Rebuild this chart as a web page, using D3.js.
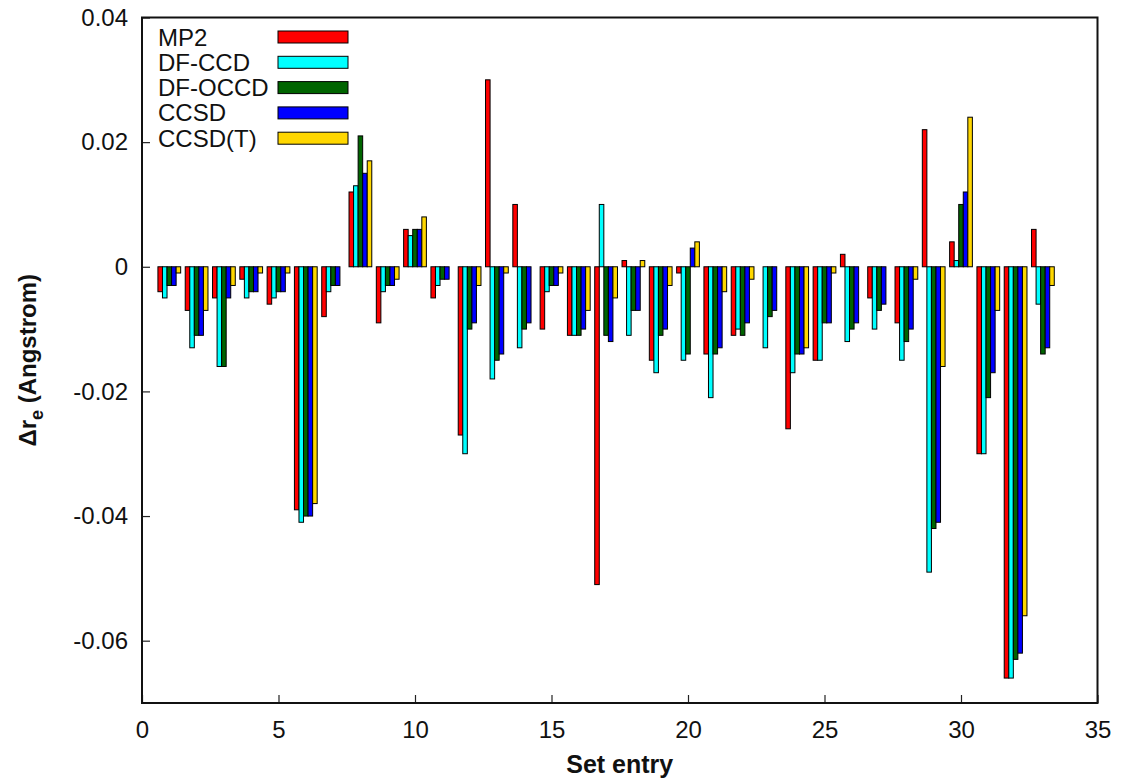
<!DOCTYPE html>
<html>
<head>
<meta charset="utf-8">
<script src="https://cdn.jsdelivr.net/npm/d3@7"></script>
<style>
  body { margin: 0; background: #fff; }
  text { font-family: "Liberation Sans", Arial, sans-serif; }
</style>
</head>
<body>
<div id="chart"></div>
<script>
// Data
const entries = d3.range(1, 34);
const seriesNames = ["MP2", "DF-CCD", "DF-OCCD", "CCSD", "CCSD(T)"];
const mp2 = [-0.004,-0.007,-0.005,-0.002,-0.006,-0.039,-0.008,0.012,-0.009,0.006,-0.005,-0.027,0.030,0.010,-0.010,-0.011,-0.051,0.001,-0.015,-0.001,-0.014,-0.011,0,-0.026,-0.015,0.002,-0.005,-0.009,0.022,0.004,-0.030,-0.066,0.006];
const dfccd = [-0.005,-0.013,-0.016,-0.005,-0.005,-0.041,-0.004,0.013,-0.004,0.005,-0.003,-0.030,-0.018,-0.013,-0.004,-0.011,0.010,-0.011,-0.017,-0.015,-0.021,-0.010,-0.013,-0.017,-0.015,-0.012,-0.010,-0.015,-0.049,0.001,-0.030,-0.066,-0.006];
const dfoccd = [-0.003,-0.011,-0.016,-0.004,-0.004,-0.040,-0.003,0.021,-0.003,0.006,-0.002,-0.010,-0.015,-0.010,-0.003,-0.011,-0.011,-0.007,-0.011,-0.014,-0.014,-0.011,-0.008,-0.014,-0.009,-0.010,-0.007,-0.012,-0.042,0.010,-0.021,-0.063,-0.014];
const ccsd = [-0.003,-0.011,-0.005,-0.004,-0.004,-0.040,-0.003,0.015,-0.003,0.006,-0.002,-0.009,-0.014,-0.009,-0.003,-0.010,-0.012,-0.007,-0.010,0.003,-0.013,-0.009,-0.007,-0.014,-0.009,-0.009,-0.006,-0.010,-0.041,0.012,-0.017,-0.062,-0.013];
const ccsdt = [-0.001,-0.007,-0.003,-0.001,-0.001,-0.038,0,0.017,-0.002,0.008,0,-0.003,-0.001,0,-0.001,-0.007,-0.005,0.001,-0.003,0.004,-0.004,-0.002,0,-0.013,-0.001,0,0,-0.002,-0.016,0.024,-0.007,-0.056,-0.003];
const xTicks = [0, 5, 10, 15, 20, 25, 30, 35];
const yTicks = [-0.06, -0.04, -0.02, 0, 0.02, 0.04];

const seriesValues = [mp2, dfccd, dfoccd, ccsd, ccsdt];
const colors = ["#ff0000", "#00ffff", "#006400", "#0000ff", "#ffd700"];

// Set the dimensions and margins of the graph
const margin = { top: 17.5, right: 26.5, bottom: 81, left: 142 };
const width = 1124 - margin.left - margin.right;
const height = 784 - margin.top - margin.bottom;

const svg = d3.select("#chart")
  .append("svg")
  .attr("width", 1124)
  .attr("height", 784)
  .append("g")
  .attr("transform", `translate(${margin.left},${margin.top})`);

const x = d3.scaleLinear().domain([0, 35]).range([0, width]);
const y = d3.scaleLinear().domain([-0.07, 0.04]).range([height, 0]);

const barW = 1 / 6;

// Bars
seriesValues.forEach((vals, j) => {
  svg.append("g")
    .selectAll("rect")
    .data(vals)
    .enter()
    .append("rect")
    .attr("x", (d, i) => x(entries[i] + (j - 2) * barW - barW / 2))
    .attr("width", x(barW) - x(0))
    .attr("y", (d) => y(Math.max(0, d)))
    .attr("height", (d) => Math.abs(y(d) - y(0)))
    .attr("fill", colors[j])
    .attr("stroke", "black")
    .attr("stroke-width", 1);
});

// Axes (plain hyphen for minus, like the original)
const xAxis = d3.axisBottom(x).tickValues(xTicks).tickSize(-8).tickPadding(13)
  .tickFormat(d3.format("d"));
const yAxis = d3.axisLeft(y).tickValues(yTicks).tickSize(-8).tickPadding(14)
  .tickFormat((d) => d === 0 ? "0" : d3.format(".2f")(d).replace("\u2212", "-"));

const gx = svg.append("g")
  .attr("transform", `translate(0,${height})`)
  .call(xAxis);
const gy = svg.append("g").call(yAxis);

[gx, gy].forEach((g) => {
  g.select(".domain").remove();
  g.selectAll(".tick line").attr("stroke", "#222").attr("stroke-width", 1.2);
  g.selectAll(".tick text")
    .attr("font-size", 24)
    .attr("font-family", "Liberation Sans, Arial, sans-serif")
    .attr("fill", "#111");
});
gx.selectAll(".tick text").attr("dy", "0.9em");

// Frame
svg.append("rect")
  .attr("x", 0).attr("y", 0)
  .attr("width", width).attr("height", height)
  .attr("fill", "none")
  .attr("stroke", "#111")
  .attr("stroke-width", 2);

// Legend
const legend = svg.append("g").attr("transform", `translate(${158 - margin.left},${37 - margin.top})`);
seriesNames.forEach((name, j) => {
  legend.append("text")
    .attr("x", 0)
    .attr("y", j * 25.3 + 8.5)
    .attr("font-size", 24)
    .attr("fill", "#111")
    .text(name);
  legend.append("rect")
    .attr("x", 278 - 158)
    .attr("y", j * 25.3 - 6)
    .attr("width", 70)
    .attr("height", 12)
    .attr("fill", colors[j])
    .attr("stroke", "black")
    .attr("stroke-width", 1);
});

// Axis labels
svg.append("text")
  .attr("x", width / 2)
  .attr("y", height + 70)
  .attr("text-anchor", "middle")
  .attr("font-size", 25)
  .attr("font-weight", "bold")
  .attr("fill", "#111")
  .text("Set entry");

const ylab = svg.append("text")
  .attr("transform", `translate(${36 - margin.left},${height / 2}) rotate(-90)`)
  .attr("text-anchor", "middle")
  .attr("font-size", 24)
  .attr("font-weight", "bold")
  .attr("fill", "#111");
ylab.append("tspan").text("\u0394r");
ylab.append("tspan").attr("dy", 7).attr("font-size", 18).text("e");
ylab.append("tspan").attr("dy", -7).text(" (Angstrom)");
</script>
</body>
</html>
